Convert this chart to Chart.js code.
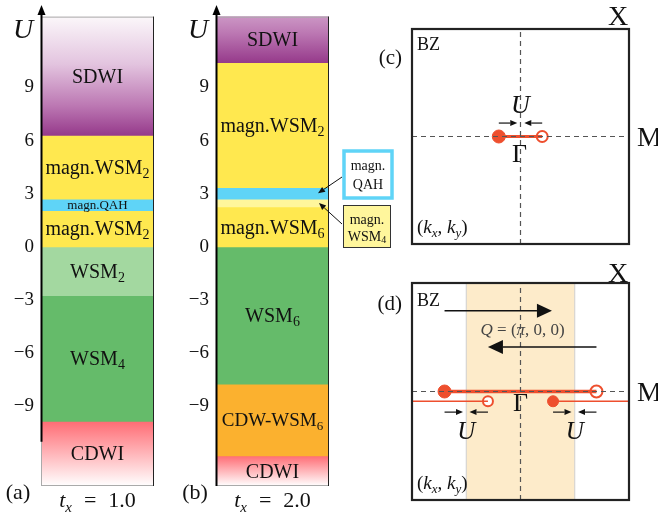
<!DOCTYPE html>
<html>
<head>
<meta charset="utf-8">
<script src="https://cdn.jsdelivr.net/npm/chart.js@4/dist/chart.umd.min.js"></script>
<style>
  html, body { margin: 0; padding: 0; background: #fff; }
  #wrap { position: relative; width: 658px; height: 515px; overflow: hidden; background: #fff; }
  canvas { position: absolute; }
</style>
</head>
<body>
<div id="wrap">
  <canvas id="colA" width="170" height="515" style="left:0;top:0"></canvas>
  <canvas id="colB" width="230" height="515" style="left:170px;top:0"></canvas>
  <canvas id="bzC" width="298" height="258" style="left:360px;top:0"></canvas>
  <canvas id="bzD" width="298" height="257" style="left:360px;top:258px"></canvas>
</div>
<script>
// ---------------- data ----------------
const uTicks = [-9, -6, -3, 0, 3, 6, 9];
const uMin = -13.5, uMax = 13.6;

// phase sequence from top to bottom, with the U values of the boundaries
const phasesA = ['SDWI', 'magn.WSM_2', 'magn.QAH', 'magn.WSM_2', 'WSM_2', 'WSM_4', 'CDWI'];
const edgesA  = [13, 6.3, 2.7, 2.05, 0, -2.75, -9.85, -13.5];

const phasesB = ['SDWI', 'magn.WSM_2', 'magn.QAH', 'magn.WSM_4', 'magn.WSM_6', 'WSM_6', 'CDW-WSM_6', 'CDWI'];
const edgesB  = [13, 10.4, 3.35, 2.7, 2.25, 0, -7.75, -11.8, -13.5];

// Brillouin-zone sketches (k in units of pi)
const nodesC   = [-0.2, 0.2];     // Weyl pair, filled / open
const nodesD   = [-0.7, 0.7];     // Weyl pair, filled / open
const foldedD  = [0.3, -0.3];     // same pair shifted by Q, filled / open
const kyFolded = -0.09;
const bandD    = [-0.5, 0.5];

// ---------------- styles ----------------
const SERIF = "'Liberation Serif','DejaVu Serif','Times New Roman',serif";
const RED = '#ee4f2e';
const phaseStyle = {
  'SDWI':       { grad: [[0, '#fbf7fa'], [0.4, '#e3c4df'], [0.75, '#bc78b3'], [1, '#963a8b']], span: 6.7 },
  'magn.WSM_2': { fill: '#ffe84f' },
  'magn.QAH':   { fill: '#5fd4f7' },
  'magn.WSM_4': { fill: '#fff69c' },
  'magn.WSM_6': { fill: '#ffe84f' },
  'WSM_2':      { fill: '#a3d8a0' },
  'WSM_4':      { fill: '#65bb6a' },
  'WSM_6':      { fill: '#65bb6a' },
  'CDW-WSM_6':  { fill: '#fbb12f' },
  'CDWI':       { grad: [[0, '#ff6c74'], [1, '#ffffff']] }
};

function font(size, italic) { return (italic ? 'italic ' : '') + size + 'px ' + SERIF; }

// segments: {t: text, i: italic, s: subscript, g: extra gap after}
function drawRich(ctx, segs, x, y, size, align, color) {
  const subSize = Math.round(size * 0.68);
  let w = 0;
  const widths = segs.map(sg => {
    ctx.font = font(sg.s ? subSize : size, sg.i);
    const m = ctx.measureText(sg.t).width + (sg.g || 0);
    w += m; return m;
  });
  let x0 = align === 'center' ? x - w / 2 : align === 'right' ? x - w : x;
  const by = y + size * 0.33;
  ctx.save();
  ctx.fillStyle = color || '#111';
  ctx.textAlign = 'left'; ctx.textBaseline = 'alphabetic';
  segs.forEach((sg, k) => {
    ctx.font = font(sg.s ? subSize : size, sg.i);
    ctx.fillText(sg.t, x0, by + (sg.s ? size * 0.2 : 0));
    x0 += widths[k];
  });
  ctx.restore();
}

function phaseSegs(label) {
  const i = label.indexOf('_');
  if (i < 0) return [{ t: label }];
  return [{ t: label.slice(0, i) }, { t: label.slice(i + 1), s: true }];
}

function arrow(ctx, x1, y1, x2, y2, len, half, lw, color) {
  const a = Math.atan2(y2 - y1, x2 - x1);
  const bx = x2 - len * Math.cos(a), by = y2 - len * Math.sin(a);
  ctx.save();
  ctx.strokeStyle = color; ctx.fillStyle = color; ctx.lineWidth = lw;
  ctx.beginPath(); ctx.moveTo(x1, y1); ctx.lineTo(bx, by); ctx.stroke();
  ctx.beginPath(); ctx.moveTo(x2, y2);
  ctx.lineTo(bx + half * Math.sin(a), by - half * Math.cos(a));
  ctx.lineTo(bx - half * Math.sin(a), by + half * Math.cos(a));
  ctx.closePath(); ctx.fill();
  ctx.restore();
}

function gradientFor(chart, lo, hi, st) {
  const y = chart.scales.y;
  const fallback = st.grad[st.grad.length - 1][1];
  if (!y) return fallback;
  const topVal = st.span ? lo + st.span : hi;
  const p0 = y.getPixelForValue(topVal), p1 = y.getPixelForValue(lo);
  if (!isFinite(p0) || !isFinite(p1) || p0 === p1) return fallback;
  const g = chart.ctx.createLinearGradient(0, p0, 0, p1);
  st.grad.forEach(([o, c]) => g.addColorStop(o, c));
  return g;
}

// ---------------- phase columns ----------------
function phaseColumn(id, phases, edges, cfg) {
  const datasets = phases.map((name, i) => {
    const lo = edges[i + 1], hi = edges[i];
    const st = phaseStyle[name];
    return {
      label: name,
      data: [[lo, hi]],
      grouped: false,
      barPercentage: 1,
      categoryPercentage: 1,
      borderWidth: 0,
      backgroundColor: st.grad ? (c) => gradientFor(c.chart, lo, hi, st) : st.fill
    };
  });

  const decor = {
    id: 'columnDecor',
    afterDatasetsDraw(chart) {
      const ctx = chart.ctx, ca = chart.chartArea, y = chart.scales.y;
      const top = y.getPixelForValue(edges[0]), bot = y.getPixelForValue(edges[edges.length - 1]);
      const cx = (ca.left + ca.right) / 2;
      // phase names
      phases.forEach((name, i) => {
        const size = cfg.labelSize[i];
        if (!size) return;
        const ym = y.getPixelForValue((edges[i] + edges[i + 1]) / 2);
        drawRich(ctx, phaseSegs(name), cx, ym, size, 'center', '#111');
      });
      // frame
      ctx.save();
      ctx.lineWidth = 1;
      ctx.strokeStyle = '#aaa';
      ctx.beginPath();
      ctx.moveTo(ca.left, top + 0.5); ctx.lineTo(ca.right, top + 0.5);
      ctx.moveTo(ca.left, bot - 0.5); ctx.lineTo(ca.right, bot - 0.5);
      ctx.moveTo(ca.left + 0.5, top); ctx.lineTo(ca.left + 0.5, bot);
      ctx.stroke();
      ctx.strokeStyle = '#222';
      ctx.beginPath();
      ctx.moveTo(ca.right - 0.5, top); ctx.lineTo(ca.right - 0.5, bot);
      ctx.stroke();
      ctx.restore();
      // U axis with arrow
      const axBot = y.getPixelForValue(cfg.axisBottom);
      arrow(ctx, ca.left + 0.5, axBot, ca.left + 0.5, y.getPixelForValue(uMax) - 1, 10, 4, 2, '#000');
      drawRich(ctx, [{ t: 'U', i: true }], cfg.uLabelX, 29, 28, 'center', '#111');
      drawRich(ctx, [{ t: cfg.panel }], cfg.panelX, 492, 22, 'center', '#111');
      drawRich(ctx, [{ t: 't', i: true }, { t: 'x', i: true, s: true, g: 12 }, { t: '=', g: 12 }, { t: cfg.tx }],
               cx, 500, 22, 'center', '#111');
      if (cfg.callouts) cfg.callouts(ctx, chart);
    }
  };

  return new Chart(document.getElementById(id), {
    type: 'bar',
    data: { labels: [''], datasets },
    options: {
      responsive: false,
      animation: false,
      layout: { padding: { left: 0, right: cfg.padRight, top: 6, bottom: 29 } },
      scales: {
        x: { display: false },
        y: {
          min: uMin, max: uMax,
          grid: { display: false, drawTicks: false },
          border: { display: false },
          afterBuildTicks: (s) => { s.ticks = uTicks.map(v => ({ value: v })); },
          afterFit: (s) => { s.width = cfg.axisWidth; s.paddingTop = 0; s.paddingBottom = 0; },
          ticks: {
            padding: 7,
            color: '#111',
            font: { family: SERIF, size: 19 },
            callback: (v) => (v < 0 ? '\u2212' + Math.abs(v) : String(v))
          }
        }
      },
      plugins: { legend: { display: false }, tooltip: { enabled: false } }
    },
    plugins: [decor]
  });
}

phaseColumn('colA', phasesA, edgesA, {
  labelSize: [20, 20, 13, 20, 20, 20, 20],
  axisWidth: 41, padRight: 16, axisBottom: -11,
  uLabelX: 23, panel: '(a)', panelX: 18, tx: '1.0'
});

phaseColumn('colB', phasesB, edgesB, {
  labelSize: [20, 20, 0, 0, 20, 20, 19, 20],
  axisWidth: 46, padRight: 71, axisBottom: -13.5,
  uLabelX: 28, panel: '(b)', panelX: 25, tx: '2.0',
  callouts(ctx, chart) {
    const y = chart.scales.y;
    ctx.save();
    ctx.fillStyle = '#fff'; ctx.strokeStyle = '#5fd4f7'; ctx.lineWidth = 3.5;
    ctx.fillRect(174, 151, 48, 47); ctx.strokeRect(174, 151, 48, 47);
    ctx.fillStyle = '#fff69c'; ctx.strokeStyle = '#333'; ctx.lineWidth = 1;
    ctx.fillRect(173.5, 205.5, 47, 42); ctx.strokeRect(173.5, 205.5, 47, 42);
    ctx.restore();
    drawRich(ctx, [{ t: 'magn.' }], 198, 165, 14, 'center', '#111');
    drawRich(ctx, [{ t: 'QAH' }], 198, 184, 14, 'center', '#111');
    drawRich(ctx, [{ t: 'magn.' }], 197, 219, 14, 'center', '#111');
    drawRich(ctx, [{ t: 'WSM' }, { t: '4', s: true }], 197, 236, 14, 'center', '#111');
    const qah = (edgesB[2] + edgesB[3]) / 2, w4 = (edgesB[3] + edgesB[4]) / 2;
    arrow(ctx, 172, 177, 148, y.getPixelForValue(qah), 7, 3, 1, '#111');
    arrow(ctx, 172, 224, 149, y.getPixelForValue(w4), 7, 3, 1, '#111');
  }
});

// ---------------- Brillouin zones ----------------
function lineSet(pts, color, width, dash) {
  return { data: pts, showLine: true, borderColor: color, borderWidth: width,
           borderDash: dash || [], pointRadius: 0, fill: false };
}
function dotSet(pts, filled, r) {
  return { data: pts, showLine: false, pointRadius: r, pointHoverRadius: r,
           pointBackgroundColor: filled ? RED : '#fff', pointBorderColor: RED, pointBorderWidth: filled ? 1 : 2 };
}
function bzOptions(pad) {
  return {
    responsive: false, animation: false,
    layout: { padding: pad },
    scales: { x: { type: 'linear', min: -1, max: 1, display: false },
              y: { type: 'linear', min: -1, max: 1, display: false } },
    plugins: { legend: { display: false }, tooltip: { enabled: false } }
  };
}
function kLabel(ctx, x, y) {
  drawRich(ctx, [{ t: '(' }, { t: 'k', i: true }, { t: 'x', i: true, s: true }, { t: ', ' },
                 { t: 'k', i: true }, { t: 'y', i: true, s: true }, { t: ')' }], x, y, 19, 'left', '#111');
}
function bzFrame(ctx, ca) {
  ctx.save(); ctx.strokeStyle = '#222'; ctx.lineWidth = 2.2;
  ctx.strokeRect(ca.left, ca.top, ca.width, ca.height); ctx.restore();
}
const dashGrey = '#555';

new Chart(document.getElementById('bzC'), {
  type: 'scatter',
  data: { datasets: [
    lineSet([{ x: -1, y: 0 }, { x: 1, y: 0 }], dashGrey, 1.2, [5, 4]),
    lineSet([{ x: 0, y: -1 }, { x: 0, y: 1 }], dashGrey, 1.2, [5, 4]),
    lineSet([{ x: nodesC[0], y: 0 }, { x: nodesC[1], y: 0 }], RED, 3),
    dotSet([{ x: nodesC[0], y: 0 }], true, 6.5),
    dotSet([{ x: nodesC[1], y: 0 }], false, 5.5)
  ] },
  options: bzOptions({ left: 52, right: 29, top: 29, bottom: 14 }),
  plugins: [{
    id: 'bzDecorC',
    afterDatasetsDraw(chart) {
      const ctx = chart.ctx, ca = chart.chartArea;
      const X = v => chart.scales.x.getPixelForValue(v), Y = v => chart.scales.y.getPixelForValue(v);
      bzFrame(ctx, ca);
      drawRich(ctx, [{ t: 'BZ' }], ca.left + 5, ca.top + 15, 18, 'left');
      drawRich(ctx, [{ t: '(c)' }], ca.left - 10, ca.top + 28, 21, 'right');
      drawRich(ctx, [{ t: 'X' }], ca.right - 11, ca.top - 13, 28, 'center');
      drawRich(ctx, [{ t: 'M' }], ca.right + 8, Y(0), 28, 'left');
      drawRich(ctx, [{ t: '\u0393' }], X(0) - 1, Y(0) + 17, 26, 'center');
      drawRich(ctx, [{ t: 'U', i: true }], X(0), Y(0.3), 26, 'center');
      arrow(ctx, X(nodesC[0]), Y(0.125), X(-0.03), Y(0.125), 7, 3, 1.2, '#111');
      arrow(ctx, X(nodesC[1]), Y(0.125), X(0.035), Y(0.125), 7, 3, 1.2, '#111');
      kLabel(ctx, ca.left + 5, ca.bottom - 17);
    }
  }]
});

new Chart(document.getElementById('bzD'), {
  type: 'scatter',
  data: { datasets: [
    lineSet([{ x: -1, y: 0 }, { x: 1, y: 0 }], dashGrey, 1.2, [5, 4]),
    lineSet([{ x: 0, y: -1 }, { x: 0, y: 1 }], dashGrey, 1.2, [5, 4]),
    lineSet([{ x: nodesD[0], y: 0 }, { x: nodesD[1], y: 0 }], RED, 3.5),
    lineSet([{ x: -1, y: kyFolded }, { x: foldedD[1], y: kyFolded }], RED, 1.5),
    lineSet([{ x: foldedD[0], y: kyFolded }, { x: 1, y: kyFolded }], RED, 1.5),
    dotSet([{ x: nodesD[0], y: 0 }], true, 6.5),
    dotSet([{ x: nodesD[1], y: 0 }], false, 6),
    dotSet([{ x: foldedD[0], y: kyFolded }], true, 5.5),
    dotSet([{ x: foldedD[1], y: kyFolded }], false, 5)
  ] },
  options: bzOptions({ left: 52, right: 29, top: 25, bottom: 15 }),
  plugins: [{
    id: 'bzDecorD',
    beforeDatasetsDraw(chart) {
      const ctx = chart.ctx, ca = chart.chartArea;
      const X = v => chart.scales.x.getPixelForValue(v);
      ctx.save();
      ctx.fillStyle = '#fdebca';
      ctx.fillRect(X(bandD[0]), ca.top, X(bandD[1]) - X(bandD[0]), ca.height);
      ctx.strokeStyle = '#cfcfcf'; ctx.lineWidth = 1;
      ctx.beginPath();
      ctx.moveTo(X(bandD[0]), ca.top); ctx.lineTo(X(bandD[0]), ca.bottom);
      ctx.moveTo(X(bandD[1]), ca.top); ctx.lineTo(X(bandD[1]), ca.bottom);
      ctx.stroke();
      ctx.restore();
    },
    afterDatasetsDraw(chart) {
      const ctx = chart.ctx, ca = chart.chartArea;
      const X = v => chart.scales.x.getPixelForValue(v), Y = v => chart.scales.y.getPixelForValue(v);
      bzFrame(ctx, ca);
      drawRich(ctx, [{ t: 'BZ' }], ca.left + 5, ca.top + 17, 18, 'left');
      drawRich(ctx, [{ t: '(d)' }], ca.left - 10, ca.top + 20, 21, 'right');
      drawRich(ctx, [{ t: 'X' }], ca.right - 11, ca.top - 10, 28, 'center');
      drawRich(ctx, [{ t: 'M' }], ca.right + 8, Y(0), 28, 'left');
      drawRich(ctx, [{ t: '\u0393' }], X(0), Y(0) + 11, 26, 'center');
      // folding vector
      arrow(ctx, X(nodesD[0]), Y(0.745), X(0.29), Y(0.745), 15, 7, 1.5, '#111');
      arrow(ctx, X(nodesD[1]), Y(0.41), X(-0.3), Y(0.41), 15, 7, 1.5, '#111');
      drawRich(ctx, [{ t: 'Q', i: true }, { t: ' = (' }, { t: '\u03c0', i: true }, { t: ', 0, 0)' }],
               X(0.02), Y(0.57), 17, 'center', '#444');
      // U shifts toward the zone edges
      const yA = Y(-0.19);
      arrow(ctx, X(nodesD[0]), yA, X(-0.53), yA, 7, 3, 1.2, '#111');
      arrow(ctx, X(foldedD[1]), yA, X(-0.47), yA, 7, 3, 1.2, '#111');
      arrow(ctx, X(foldedD[0]), yA, X(0.47), yA, 7, 3, 1.2, '#111');
      arrow(ctx, X(nodesD[1]), yA, X(0.53), yA, 7, 3, 1.2, '#111');
      drawRich(ctx, [{ t: 'U', i: true }], X(bandD[0]), Y(-0.36), 25, 'center');
      drawRich(ctx, [{ t: 'U', i: true }], X(bandD[1]), Y(-0.36), 25, 'center');
      kLabel(ctx, ca.left + 5, ca.bottom - 17);
    }
  }]
});
</script>
</body>
</html>
